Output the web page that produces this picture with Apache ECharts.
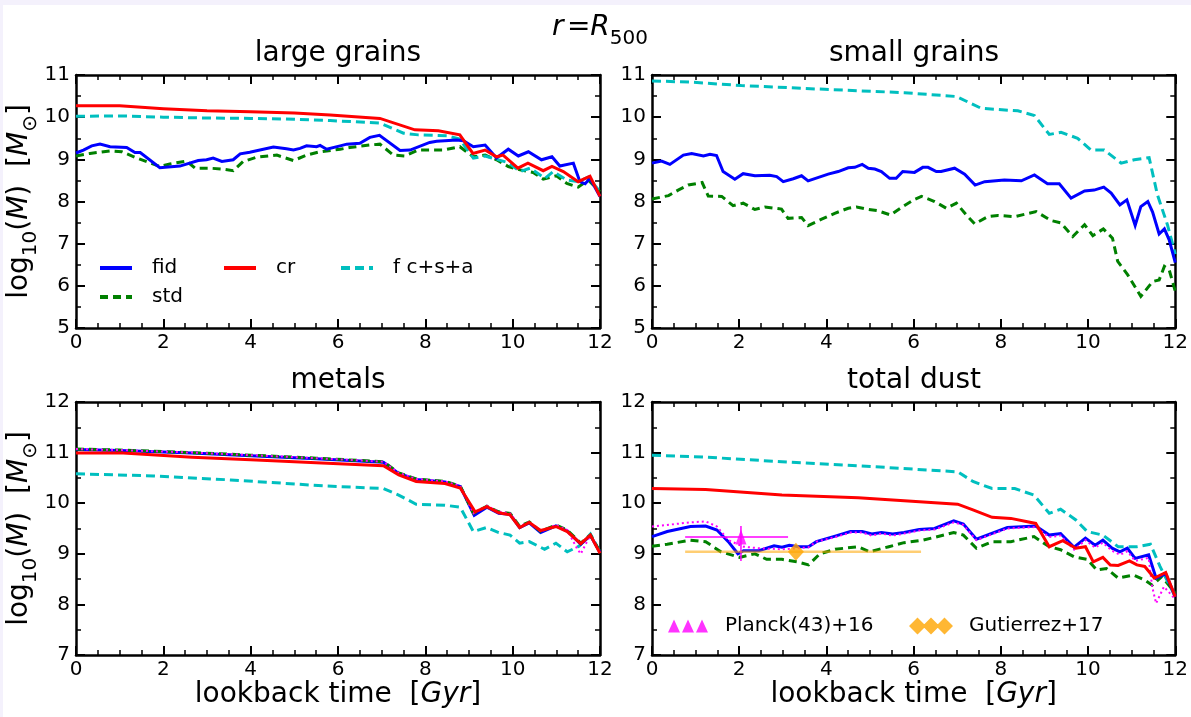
<!DOCTYPE html>
<html>
<head>
<meta charset="utf-8">
<script src="https://cdn.jsdelivr.net/npm/echarts@6/dist/echarts.min.js"></script>
<style>
  html, body { margin: 0; padding: 0; background: #f4f1fc; }
  #main { position: absolute; left: 3px; top: 5px; width: 1188px; height: 712px; background: #fff; }
</style>
</head>
<body>
<div id="main"></div>
<script>
// ---- data: [lookback time (Gyr), log10(M)] ----
// large grains
const lgFid = [[0,9.15],[0.17,9.22],[0.36,9.32],[0.55,9.36],[0.78,9.3],[1.16,9.28],[1.35,9.16],[1.47,9.16],[1.92,8.8],[2.38,8.84],[2.8,8.97],[2.99,8.99],[3.14,9.03],[3.34,8.95],[3.6,8.99],[3.76,9.13],[3.98,9.17],[4.52,9.29],[4.82,9.25],[4.98,9.22],[5.13,9.26],[5.28,9.32],[5.51,9.3],[5.59,9.33],[5.74,9.24],[6.05,9.32],[6.2,9.36],[6.5,9.38],[6.73,9.52],[6.95,9.57],[7.42,9.21],[7.65,9.22],[8.1,9.4],[8.26,9.43],[8.72,9.46],[8.87,9.44],[9.1,9.3],[9.37,9.34],[9.63,9.03],[9.9,9.24],[10.13,9.08],[10.36,9.18],[10.66,8.99],[10.9,9.06],[11.08,8.84],[11.39,8.91],[11.54,8.47],[11.66,8.42],[11.77,8.55],[12,8.12]];
const lgCr = [[0,10.27],[1,10.27],[2,10.2],[3,10.15],[4,10.13],[5,10.1],[5.82,10.05],[6.96,9.97],[7.76,9.7],[8.3,9.68],[8.79,9.58],[9.09,9.14],[9.37,9.22],[9.63,9.06],[9.78,9.1],[10.12,8.79],[10.35,8.91],[10.7,8.73],[10.9,8.83],[11.16,8.71],[11.5,8.47],[11.77,8.6],[12,8.12]];
const lgFcsa = [[0,10.02],[1,10.03],[2,10.0],[3,9.98],[4,9.97],[5,9.95],[5.82,9.92],[6.96,9.86],[7.23,9.74],[7.5,9.62],[7.84,9.58],[8.49,9.56],[8.79,9.48],[9.1,9.03],[9.37,9.08],[9.63,9.0],[9.9,8.92],[10.17,8.71],[10.4,8.79],[10.74,8.55],[10.93,8.71],[11.24,8.51],[11.5,8.47],[11.73,8.58],[12,8.23]];
const lgStd = [[0,9.08],[0.32,9.14],[0.78,9.2],[1.05,9.18],[1.39,9.03],[1.92,8.83],[2.15,8.89],[2.53,8.96],[2.73,8.79],[3.07,8.79],[3.34,8.77],[3.6,8.73],[3.83,8.95],[4.14,9.05],[4.6,9.1],[4.98,8.97],[5.28,9.1],[5.59,9.18],[6.05,9.24],[6.27,9.28],[6.73,9.34],[6.96,9.36],[7.27,9.1],[7.53,9.08],[7.84,9.22],[8.41,9.22],[8.79,9.3],[9.1,9.06],[9.37,9.1],[9.63,8.99],[9.9,8.83],[10.17,8.75],[10.47,8.69],[10.7,8.53],[11.0,8.61],[11.24,8.43],[11.5,8.34],[11.73,8.51],[12,8.23]];

// small grains
const sgFid = [[0,8.91],[0.22,8.96],[0.41,8.88],[0.72,9.1],[0.91,9.14],[1.18,9.08],[1.33,9.12],[1.48,9.09],[1.63,8.71],[1.9,8.53],[2.09,8.66],[2.36,8.61],[2.7,8.62],[2.86,8.59],[3.01,8.47],[3.24,8.54],[3.43,8.61],[3.58,8.49],[4.04,8.65],[4.27,8.71],[4.5,8.8],[4.65,8.81],[4.82,8.88],[4.96,8.79],[5.11,8.77],[5.26,8.71],[5.45,8.55],[5.6,8.55],[5.75,8.71],[6.02,8.69],[6.21,8.81],[6.33,8.81],[6.52,8.71],[6.63,8.71],[6.94,8.79],[7.17,8.65],[7.41,8.39],[7.63,8.47],[8.08,8.51],[8.47,8.49],[8.77,8.63],[9.07,8.42],[9.34,8.42],[9.61,8.08],[9.92,8.25],[10.14,8.27],[10.36,8.34],[10.53,8.2],[10.73,7.92],[10.89,8.04],[11.08,7.43],[11.21,7.88],[11.37,8.0],[11.48,7.75],[11.63,7.23],[11.75,7.35],[11.86,7.09],[12,6.55]];
const sgFcsa = [[0,10.86],[0.91,10.83],[2.05,10.75],[3.96,10.66],[5.79,10.58],[6.98,10.49],[7.55,10.21],[8.39,10.15],[8.77,10.04],[9.11,9.59],[9.38,9.64],[9.76,9.5],[10.07,9.22],[10.37,9.22],[10.76,8.91],[11.06,8.99],[11.4,9.04],[11.59,8.16],[11.82,7.45],[12,6.75]];
const sgStd = [[0,8.06],[0.38,8.14],[0.6,8.27],[0.83,8.39],[1.15,8.45],[1.29,8.13],[1.6,8.12],[1.86,7.9],[2.09,7.96],[2.36,7.81],[2.59,7.87],[2.97,7.82],[3.12,7.6],[3.43,7.62],[3.58,7.43],[3.89,7.58],[4.19,7.72],[4.5,7.84],[4.69,7.87],[4.92,7.82],[5.18,7.78],[5.47,7.68],[5.75,7.88],[6.02,8.05],[6.18,8.12],[6.48,8.0],[6.75,7.84],[6.98,7.96],[7.21,7.68],[7.4,7.47],[7.7,7.64],[7.93,7.67],[8.31,7.64],[8.81,7.76],[9.15,7.55],[9.38,7.49],[9.65,7.17],[9.92,7.45],[10.11,7.19],[10.35,7.35],[10.56,7.13],[10.68,6.58],[10.91,6.26],[11.21,5.75],[11.48,6.1],[11.63,6.14],[11.75,6.46],[11.86,6.38],[12,5.87]];

// metals
const mtFid = [[0,11.06],[1,11.04],[2.66,10.99],[4,10.94],[5.5,10.88],[7.04,10.81],[7.39,10.59],[7.79,10.47],[8.45,10.42],[8.8,10.33],[9.12,9.76],[9.41,9.92],[9.68,9.8],[9.94,9.78],[10.16,9.52],[10.38,9.61],[10.64,9.42],[10.99,9.55],[11.25,9.45],[11.56,9.19],[11.78,9.36],[12,9.03]];
const mtStd = [[0,11.07],[1,11.05],[2.66,11.0],[4,10.95],[5.5,10.89],[7.04,10.82],[7.39,10.6],[7.79,10.48],[8.45,10.43],[8.8,10.34],[9.1,9.8],[9.41,9.94],[9.68,9.83],[9.94,9.8],[10.16,9.54],[10.38,9.63],[10.64,9.44],[10.99,9.57],[11.25,9.47],[11.56,9.21],[11.78,9.37],[12,9.04]];
const mtDot = [[0,11.07],[1,11.05],[2.66,11.0],[4,10.95],[5.5,10.89],[7.04,10.82],[7.39,10.6],[7.79,10.48],[8.45,10.43],[8.8,10.34],[9.1,9.8],[9.41,9.95],[9.68,9.83],[9.94,9.8],[10.16,9.54],[10.38,9.63],[10.64,9.44],[10.99,9.57],[11.25,9.47],[11.47,9.11],[11.56,9.0],[11.78,9.37],[12,9.04]];
const mtCr = [[0,10.99],[1.08,10.99],[2.66,10.91],[4,10.86],[5.5,10.8],[7.04,10.74],[7.39,10.56],[7.79,10.43],[8.45,10.39],[8.8,10.3],[9.14,9.83],[9.41,9.93],[9.68,9.81],[9.94,9.77],[10.16,9.52],[10.38,9.62],[10.64,9.46],[10.99,9.54],[11.25,9.44],[11.56,9.2],[11.78,9.37],[12,9.01]];
const mtFcsa = [[0,10.58],[1.78,10.54],[3.54,10.46],[5.73,10.34],[7.04,10.29],[7.39,10.16],[7.79,9.98],[8.45,9.96],[8.8,9.92],[9.1,9.44],[9.41,9.52],[9.68,9.42],[9.94,9.37],[10.16,9.21],[10.38,9.24],[10.73,9.09],[10.99,9.21],[11.25,9.04],[11.52,9.15],[11.78,9.39],[12,9.04]];

// total dust
const tdFid = [[0,9.34],[0.35,9.44],[0.88,9.54],[1.23,9.55],[1.49,9.47],[1.75,9.24],[1.97,9.0],[2.1,9.06],[2.45,9.06],[2.8,9.16],[2.98,9.13],[3.15,9.17],[3.37,9.14],[3.59,9.14],[3.77,9.24],[4.2,9.35],[4.55,9.44],[4.82,9.44],[5.04,9.39],[5.26,9.42],[5.52,9.39],[5.78,9.42],[6.13,9.48],[6.48,9.5],[6.92,9.65],[7.14,9.59],[7.44,9.29],[8.15,9.52],[8.8,9.55],[9.11,9.37],[9.37,9.4],[9.68,9.13],[9.94,9.31],[10.16,9.17],[10.34,9.27],[10.55,9.11],[10.73,9.04],[10.9,9.11],[11.08,8.91],[11.39,8.98],[11.56,8.52],[11.78,8.61],[12,8.15]];
const tdDot = [[0,9.54],[0.88,9.62],[1.23,9.64],[1.49,9.54],[1.75,9.27],[2.1,9.14],[2.45,9.11],[2.98,9.09],[3.37,9.11],[3.59,9.13],[3.77,9.24],[4.2,9.33],[4.55,9.42],[4.82,9.42],[5.04,9.36],[5.26,9.4],[5.52,9.36],[5.78,9.4],[6.13,9.46],[6.48,9.48],[6.92,9.62],[7.14,9.57],[7.44,9.27],[8.15,9.5],[8.8,9.53],[9.11,9.33],[9.37,9.36],[9.68,9.08],[9.94,9.27],[10.16,9.12],[10.34,9.22],[10.55,9.06],[10.73,8.98],[10.9,9.05],[11.08,8.86],[11.39,8.92],[11.47,8.35],[11.56,8.02],[11.74,8.35],[12,8.1]];
const tdCr = [[0,10.29],[1.23,10.27],[2.98,10.16],[4.73,10.11],[7.01,9.98],[7.36,9.87],[7.8,9.72],[8.23,9.7],[8.8,9.6],[9.11,9.14],[9.42,9.26],[9.72,9.11],[9.94,9.14],[10.12,8.84],[10.34,8.93],[10.51,8.78],[10.69,8.77],[10.95,8.86],[11.12,8.78],[11.3,8.75],[11.52,8.52],[11.78,8.63],[12,8.15]];
const tdFcsa = [[0,10.95],[1.23,10.91],[2.98,10.82],[4.73,10.74],[7.01,10.62],[7.36,10.43],[7.8,10.29],[8.32,10.29],[8.76,10.16],[9.11,9.8],[9.37,9.88],[9.72,9.67],[9.98,9.44],[10.34,9.37],[10.69,9.14],[11.12,9.14],[11.43,9.19],[11.65,8.75],[12,8.15]];
const tdStd = [[0,9.15],[0.35,9.19],[0.88,9.27],[1.23,9.24],[1.58,9.04],[2.01,8.93],[2.36,9.0],[2.63,8.89],[2.98,8.89],[3.33,8.84],[3.59,8.78],[3.85,9.0],[4.2,9.09],[4.73,9.14],[4.99,9.04],[5.43,9.14],[5.78,9.22],[6.22,9.27],[6.92,9.42],[7.14,9.37],[7.44,9.11],[7.8,9.24],[8.23,9.24],[8.76,9.34],[9.11,9.14],[9.37,9.08],[9.68,8.94],[9.98,8.89],[10.2,8.68],[10.42,8.71],[10.69,8.52],[11.04,8.58],[11.3,8.48],[11.47,8.38],[11.69,8.55],[12,8.22]];

// observations (total dust panel)
const planckPt = [[2.04, 9.33]];
const planckXerr = [[0.76, 9.33], [3.12, 9.33]];
const planckYerr = [[2.04, 9.55], [2.04, 8.86]];
const gutPt = [[3.3, 9.04]];
const gutXerr = [[0.76, 9.04], [6.17, 9.04]];

const panelTitles = ['large grains', 'small grains', 'metals', 'total dust'];
const yRanges = [[5, 11], [5, 11], [7, 12], [7, 12]];

const FONT = 'DejaVu Sans';
const C = { fid: '#0000ff', cr: '#ff0000', fcsa: '#00bfbf', std: '#008000', dot: '#ff00ff' };

var chart = echarts.init(document.getElementById('main'));

const grids = [
  { left: 73, top: 70, width: 524, height: 253 },
  { left: 649, top: 70, width: 524, height: 253 },
  { left: 73, top: 397, width: 524, height: 253 },
  { left: 649, top: 397, width: 524, height: 253 }
];

const lineAx = { onZero: false, lineStyle: { color: '#000', width: 2.5 } };
function tickCfg() { return { inside: true, length: 9, lineStyle: { color: '#000', width: 2 } }; }

const xName = '{t|lookback time  [}{i|Gyr}{t|]}';
const yName = '{t|log}{s|10}{t|(}{i|M}{t|)  [}{i|M}{s|\u2299}{t|]}';
const nameRich = {
  t: { fontSize: 28, fontFamily: FONT, color: '#000', lineHeight: 32, verticalAlign: 'top' },
  i: { fontSize: 28, fontFamily: FONT, color: '#000', fontStyle: 'italic', lineHeight: 32, verticalAlign: 'top' },
  s: { fontSize: 20, fontFamily: FONT, color: '#000', lineHeight: 20, verticalAlign: 'top', padding: [15, 0, 0, 0] }
};

let xAxes = [], yAxes = [];
for (let i = 0; i < 4; i++) {
  let bottomRow = i >= 2;
  xAxes.push({
    type: 'value', gridIndex: i, min: 0, max: 12, interval: 2, position: 'bottom',
    axisLine: lineAx, axisTick: tickCfg(),
    minorTick: { show: true, splitNumber: 4, length: 5, lineStyle: { color: '#000', width: 1.5 } },
    splitLine: { show: false },
    axisLabel: { fontSize: 20, fontFamily: FONT, color: '#000', margin: 5 },
    name: bottomRow ? xName : '', nameLocation: 'middle', nameGap: 26,
    nameTextStyle: { rich: nameRich }
  });
  let left = i % 2 === 0;
  yAxes.push({
    type: 'value', gridIndex: i, min: yRanges[i][0], max: yRanges[i][1], interval: 1, position: 'left',
    axisLine: lineAx, axisTick: tickCfg(),
    minorTick: { show: true, splitNumber: 2, length: 5, lineStyle: { color: '#000', width: 1.5 } },
    splitLine: { show: false },
    axisLabel: { fontSize: 20, fontFamily: FONT, color: '#000', margin: 6 },
    name: left ? yName : '', nameLocation: 'middle', nameRotate: 90, nameGap: 30,
    nameTextStyle: { rich: nameRich }
  });
}
// mirror axes for the ticks on top and right of every box
for (let i = 0; i < 4; i++) {
  xAxes.push({
    type: 'value', gridIndex: i, min: 0, max: 12, interval: 2, position: 'top',
    axisLine: lineAx, axisTick: tickCfg(),
    minorTick: { show: true, splitNumber: 4, length: 5, lineStyle: { color: '#000', width: 1.5 } },
    splitLine: { show: false }, axisLabel: { show: false }
  });
  yAxes.push({
    type: 'value', gridIndex: i, min: yRanges[i][0], max: yRanges[i][1], interval: 1, position: 'right',
    axisLine: lineAx, axisTick: tickCfg(),
    minorTick: { show: true, splitNumber: 2, length: 5, lineStyle: { color: '#000', width: 1.5 } },
    splitLine: { show: false }, axisLabel: { show: false }
  });
}

function line(name, data, gi, color, type, width, z) {
  return {
    type: 'line', name: name, data: data, xAxisIndex: gi, yAxisIndex: gi,
    symbol: 'none', showSymbol: false, silent: true, z: z,
    lineStyle: { color: color, width: width, type: type, cap: 'butt', join: 'miter' },
    itemStyle: { color: color }
  };
}
const dashC = [9, 5], dashG = [8, 5], dotM = [2, 3];

let series = [
  line('std', lgStd, 0, C.std, dashG, 3, 2),
  line('f c+s+a', lgFcsa, 0, C.fcsa, dashC, 3, 3),
  line('fid', lgFid, 0, C.fid, 'solid', 3, 4),
  line('cr', lgCr, 0, C.cr, 'solid', 3, 5),

  line('std', sgStd, 1, C.std, dashG, 3, 2),
  line('f c+s+a', sgFcsa, 1, C.fcsa, dashC, 3, 3),
  line('fid', sgFid, 1, C.fid, 'solid', 3, 4),

  line('f c+s+a', mtFcsa, 2, C.fcsa, dashC, 3, 3),
  line('fid', mtFid, 2, C.fid, 'solid', 3, 4),
  line('std', mtStd, 2, C.std, dashG, 3, 5),
  line('nodust', mtDot, 2, C.dot, dotM, 2, 6),
  line('cr', mtCr, 2, C.cr, 'solid', 3, 7),

  line('std', tdStd, 3, C.std, dashG, 3, 2),
  line('f c+s+a', tdFcsa, 3, C.fcsa, dashC, 3, 3),
  line('fid', tdFid, 3, C.fid, 'solid', 3, 4),
  line('nodust', tdDot, 3, C.dot, dotM, 2, 5),
  line('cr', tdCr, 3, C.cr, 'solid', 3, 6),

  line('planck-x', planckXerr, 3, '#ff00ff', 'solid', 1.5, 7),
  line('planck-y', planckYerr, 3, '#ff00ff', 'solid', 1.5, 7),
  line('gut-x', gutXerr, 3, 'rgba(255,165,0,0.55)', 'solid', 2.5, 7),
  {
    type: 'scatter', name: 'Planck(43)+16', data: planckPt, xAxisIndex: 3, yAxisIndex: 3,
    symbol: 'triangle', symbolSize: [11, 15], itemStyle: { color: '#ff00ff' }, z: 8, silent: true
  },
  {
    type: 'scatter', name: 'Gutierrez+17', data: gutPt, xAxisIndex: 3, yAxisIndex: 3,
    symbol: 'diamond', symbolSize: [16, 18], itemStyle: { color: '#ffa500' }, z: 8, silent: true
  }
];

function legendAt(left, top, data, w, h, gap, lineLegend) {
  let lg = {
    left: left, top: top, padding: 0, itemWidth: w, itemHeight: h, selectedMode: false,
    data: data, textStyle: { fontSize: 20, fontFamily: FONT, color: '#000', padding: [0, 0, 0, gap] }
  };
  if (lineLegend) {
    lg.itemStyle = { opacity: 0 };
    lg.lineStyle = { width: 4 };
  }
  return lg;
}
const triIcon = 'path://M0,13L6,0L12,13Z M14,13L20,0L26,13Z M28,13L34,0L40,13Z';
const diaIcon = 'path://M0,8.5L8.5,0L17,8.5L8.5,17Z M13.5,8.5L22,0L30.5,8.5L22,17Z M27,8.5L35.5,0L44,8.5L35.5,17Z';

let legends = [
  legendAt(95, 253, ['fid'], 32, 14, 15, true),
  legendAt(219, 253, ['cr'], 32, 14, 15, true),
  legendAt(336, 253, ['f c+s+a'], 32, 14, 15, true),
  legendAt(95, 282, ['std'], 32, 14, 15, true),
  legendAt(665, 611, [{ name: 'Planck(43)+16', icon: triIcon }], 40, 13, 12, false),
  legendAt(906, 611, [{ name: 'Gutierrez+17', icon: diaIcon }], 44, 17, 11, false)
];

function titleText(x, y, text) {
  return {
    type: 'text', x: x, y: y, silent: true,
    style: { text: text, fontSize: 28, fontFamily: FONT, fill: '#000', align: 'center', verticalAlign: 'middle', textAlign: 'center', textVerticalAlign: 'middle' }
  };
}
let graphics = [
  titleText(335, 49, panelTitles[0]),
  titleText(911, 49, panelTitles[1]),
  titleText(335, 376, panelTitles[2]),
  titleText(911, 376, panelTitles[3]),
  {
    type: 'text', x: 597, y: 25, silent: true,
    style: {
      text: '{i|r} {t|=}{i|R}{s|500}', align: 'center', verticalAlign: 'middle',
      textAlign: 'center', textVerticalAlign: 'middle',
      rich: {
        t: { fontSize: 28, fontFamily: FONT, fill: '#000', lineHeight: 32, verticalAlign: 'top' },
        i: { fontSize: 28, fontFamily: FONT, fill: '#000', fontStyle: 'italic', lineHeight: 32, verticalAlign: 'top' },
        s: { fontSize: 20, fontFamily: FONT, fill: '#000', lineHeight: 20, verticalAlign: 'top', padding: [15, 0, 0, 0] }
      }
    }
  }
];

let option = {
  animation: false,
  backgroundColor: '#fff',
  grid: grids,
  xAxis: xAxes,
  yAxis: yAxes,
  legend: legends,
  graphic: graphics,
  series: series
};
chart.setOption(option);
</script>
</body>
</html>
